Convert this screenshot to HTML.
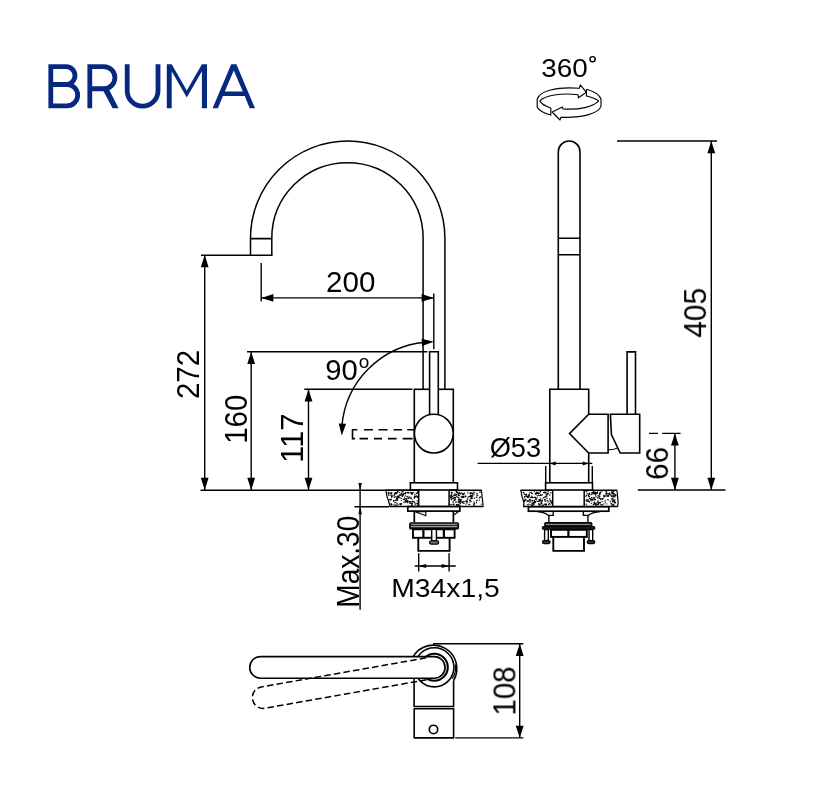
<!DOCTYPE html>
<html><head><meta charset="utf-8"><title>BRUMA</title>
<style>
html,body{margin:0;padding:0;background:#fff}
body{width:813px;height:792px;overflow:hidden;position:relative;font-family:"Liberation Sans",sans-serif}
svg{position:absolute;left:0;top:0;display:block}
text{font-family:"Liberation Sans",sans-serif;fill:#000}
.o{fill:none;stroke:#000;stroke-width:1.6}
.d{fill:none;stroke:#000;stroke-width:1.4}
.a{fill:#000;stroke:none}
</style></head><body>
<svg width="813" height="792" viewBox="0 0 813 792">
<g fill="none" stroke="#06297f" stroke-width="4.8" stroke-linejoin="miter" stroke-linecap="butt">
<path d="M50.8 64.2 V108.2 M48.4 66.55 H66 A8.975 8.975 0 0 1 66 84.5 H50.8 M65.6 84.5 H67 A10.675 10.675 0 0 1 67 105.85 H48.4"/>
<path d="M89.8 64.2 V108.2 M87.4 66.55 H103.8 A11.1 11.1 0 0 1 103.8 88.75 H89.8"/>
<path d="M127.2 64.2 V90.7 A15.4 15.4 0 0 0 158 90.7 V64.2"/>
</g>
<g fill="#06297f" stroke="none" fill-rule="evenodd">
<path d="M103 90.3 L108.9 89.3 L118.6 108.2 H112.6 Z"/>
<path d="M166.8 108.2 V64.2 H171.7 L186.8 90.6 L201.9 64.2 H207 V108.2 H201.9 V71.2 L186.8 97.6 L171.7 71.2 V108.2 Z"/>
<path d="M212.6 108.2 L231.2 64.2 H236.4 L255 108.2 H249.7 L244.7 96.1 H222.9 L217.9 108.2 Z M233.8 70.5 L242.8 91.5 H224.8 Z"/>
</g>
<g class="o">
<path d="M250.5 255 V238.3 A97.2 97.2 0 0 1 444.9 238.3 V389.2" style="stroke-width:1.5"/>
<path d="M271.8 255 V238.3 A75.65 75.65 0 0 1 423.1 238.3 V389.2" style="stroke-width:1.5"/>
<path d="M250.5 238.6 H271.8 M249.7 255.2 H272.6"/>
<rect x="414.3" y="389.3" width="39" height="93.5"/>
<rect x="410.4" y="482.8" width="47.1" height="7.2" fill="#fff"/>
<path d="M429.6 415 V351.7 H438.3 V415" fill="#fff"/>
<circle cx="433.8" cy="433.6" r="19.4" fill="#fff"/>
<path d="M414 429.7 H352.5" stroke-dasharray="6.7 5.3 8.4 6 9.1 5.5 9 6.7 4.8"/><path d="M352.5 428.9 V439.4"/><path d="M352.5 438.6 H414" stroke-dasharray="2.5 4.5 8.5 6 8 6 8.6 6.1 9.9 2"/>
</g>
<g class="d">
<path d="M201 255.3 H250"/>
<path d="M204.7 255 V490"/>
<path d="M200.6 490.2 H420" style="stroke-width:1.5"/>
<path d="M261.2 263 V301.5"/>
<path d="M261.2 297.9 H433.8"/>
<path d="M433.8 293.4 V349.3"/>
<path d="M247 351.8 H427.4"/>
<path d="M251.2 351.8 V490"/>
<path d="M304.3 389.2 H412.4"/>
<path d="M308.5 389.2 V490"/>
<path d="M425 342.2 A92 92 0 0 0 341.9 426"/>
<path d="M360.1 483 V609.7"/>
<path d="M354.4 506.7 H389"/>
</g>
<polygon class="a" points="204.7,255.0 208.6,267.2 200.8,267.2"/>
<polygon class="a" points="204.7,490.0 200.8,477.8 208.6,477.8"/>
<polygon class="a" points="261.2,297.9 273.4,294.0 273.4,301.8"/>
<polygon class="a" points="433.8,297.9 421.6,301.8 421.6,294.0"/>
<polygon class="a" points="251.2,351.8 255.1,364.0 247.3,364.0"/>
<polygon class="a" points="251.2,490.0 247.3,477.8 255.1,477.8"/>
<polygon class="a" points="308.5,389.2 312.4,401.4 304.6,401.4"/>
<polygon class="a" points="308.5,490.0 304.6,477.8 312.4,477.8"/>
<polygon class="a" points="433.8,341.8 422.0,346.0 421.6,338.8"/>
<polygon class="a" points="341.8,435.6 338.7,423.4 346.1,423.8"/>
<polygon class="a" points="360.1,490.2 358.4,482.9 361.9,482.9"/>
<polygon class="a" points="360.1,506.7 361.9,514.3 358.4,514.3"/>
<g fill="#000"><rect x="395.9" y="493.1" width="1" height="1"/><rect x="411.5" y="492.3" width="2" height="1"/><rect x="414.3" y="494.0" width="1" height="1.6"/><rect x="398.9" y="494.3" width="2" height="1.6"/><rect x="403.9" y="496.5" width="1" height="1"/><rect x="403.2" y="492.9" width="1.6" height="1"/><rect x="402.7" y="498.9" width="2" height="1"/><rect x="389.0" y="498.9" width="1" height="1.3"/><rect x="405.2" y="497.9" width="2" height="1.6"/><rect x="410.1" y="497.5" width="1.6" height="1.3"/><rect x="395.2" y="502.0" width="1" height="1"/><rect x="403.8" y="498.3" width="1.3" height="1.6"/><rect x="394.8" y="504.6" width="1" height="1.6"/><rect x="391.0" y="495.8" width="1.6" height="1.6"/><rect x="396.4" y="495.9" width="1.6" height="1.6"/><rect x="388.0" y="492.3" width="1.3" height="1.6"/><rect x="407.6" y="491.9" width="1.3" height="1.6"/><rect x="394.7" y="496.4" width="1.3" height="1"/><rect x="415.2" y="495.9" width="2" height="1"/><rect x="401.3" y="494.0" width="1.3" height="1"/><rect x="408.9" y="496.5" width="1.6" height="1"/><rect x="391.0" y="496.6" width="1.3" height="1"/><rect x="411.4" y="503.0" width="1.3" height="1.6"/><rect x="416.7" y="500.5" width="1.6" height="1"/><rect x="390.5" y="493.4" width="1" height="1"/><rect x="394.6" y="493.0" width="2" height="1.3"/><rect x="404.9" y="495.4" width="1" height="1"/><rect x="400.1" y="503.1" width="2" height="1.6"/><rect x="398.3" y="496.5" width="1.6" height="1.6"/><rect x="387.7" y="491.9" width="1" height="1.6"/><rect x="390.9" y="495.7" width="1" height="1"/><rect x="405.0" y="492.0" width="1" height="1.6"/><rect x="390.4" y="494.5" width="1.3" height="1.3"/><rect x="400.6" y="492.6" width="1.6" height="1.6"/><rect x="400.8" y="495.3" width="1" height="1"/><rect x="409.3" y="501.3" width="1.6" height="1"/><rect x="402.0" y="493.9" width="2" height="1.3"/><rect x="390.4" y="498.6" width="1" height="1.3"/><rect x="416.4" y="503.0" width="1.3" height="1.3"/><rect x="414.2" y="495.9" width="1" height="1.3"/><rect x="405.7" y="499.5" width="1" height="1"/><rect x="411.4" y="501.3" width="1" height="1"/><rect x="402.0" y="495.9" width="1" height="1"/><rect x="410.5" y="497.6" width="1" height="1.3"/><rect x="399.8" y="504.0" width="1.3" height="1.3"/><rect x="388.3" y="492.4" width="1.6" height="1"/><rect x="396.4" y="497.7" width="2" height="1"/><rect x="400.8" y="500.1" width="1" height="1"/><rect x="414.3" y="501.9" width="1" height="1.6"/><rect x="413.6" y="497.0" width="1.3" height="1"/><rect x="410.9" y="504.5" width="1.6" height="1.6"/><rect x="398.4" y="504.2" width="1" height="1"/><rect x="416.9" y="491.4" width="2" height="1.6"/><rect x="411.0" y="493.0" width="2" height="1.6"/><rect x="406.4" y="495.9" width="2" height="1"/><rect x="399.4" y="503.1" width="1" height="1"/><rect x="393.7" y="495.1" width="1" height="1.3"/><rect x="393.9" y="496.8" width="1" height="1"/><rect x="414.3" y="495.9" width="1.6" height="1.6"/><rect x="411.7" y="503.2" width="1" height="1"/><rect x="402.2" y="491.3" width="1.6" height="1"/><rect x="404.8" y="501.8" width="1" height="1"/><rect x="390.2" y="499.6" width="1" height="1"/><rect x="396.0" y="498.2" width="2" height="1.6"/><rect x="410.3" y="492.5" width="2" height="1"/><rect x="393.6" y="494.8" width="1" height="1.6"/><rect x="403.4" y="501.6" width="1" height="1.6"/><rect x="396.0" y="504.5" width="2" height="1"/><rect x="407.5" y="497.3" width="2" height="1.6"/><rect x="401.7" y="494.4" width="2" height="1.3"/><rect x="414.7" y="503.4" width="1" height="1.6"/><rect x="390.1" y="492.7" width="1.6" height="1.3"/><rect x="388.1" y="494.3" width="1" height="1"/><rect x="406.8" y="501.9" width="1" height="1.3"/><rect x="390.3" y="503.3" width="1.6" height="1"/><rect x="409.2" y="492.3" width="1.6" height="1"/><rect x="416.8" y="502.6" width="1" height="1.6"/><rect x="416.9" y="496.6" width="1.6" height="1"/><rect x="397.0" y="492.3" width="1.3" height="1"/><rect x="396.4" y="497.4" width="1" height="1.6"/><rect x="396.2" y="499.7" width="2" height="1"/><rect x="388.4" y="494.8" width="1" height="1.3"/><rect x="409.5" y="502.4" width="1.3" height="1.6"/><rect x="390.5" y="503.8" width="2" height="1.6"/><rect x="407.7" y="492.2" width="1" height="1"/><rect x="399.1" y="492.0" width="1" height="1"/><rect x="410.9" y="492.2" width="1" height="1"/><rect x="394.1" y="492.7" width="1" height="1.3"/><rect x="416.9" y="496.8" width="1.3" height="1"/><rect x="394.0" y="493.5" width="1.3" height="1.3"/><rect x="402.4" y="493.9" width="1.6" height="1"/><rect x="394.3" y="502.2" width="1.3" height="1"/><rect x="401.9" y="494.4" width="1.6" height="1"/><rect x="406.4" y="500.0" width="1.6" height="1.6"/><rect x="416.2" y="495.3" width="1" height="1"/><rect x="396.5" y="502.6" width="1" height="1.6"/><rect x="416.8" y="504.6" width="1" height="1"/><rect x="390.9" y="492.2" width="1.6" height="1.3"/><rect x="404.5" y="500.6" width="1" height="1.6"/><rect x="391.6" y="494.7" width="1" height="1.3"/><rect x="397.2" y="495.6" width="2" height="1.3"/><rect x="393.5" y="504.4" width="1.3" height="1"/><rect x="397.0" y="491.0" width="1.6" height="1"/><rect x="400.7" y="498.0" width="1" height="1"/><rect x="401.6" y="491.1" width="1.3" height="1"/><rect x="390.3" y="499.2" width="1.6" height="1"/><rect x="395.2" y="499.8" width="1" height="1"/><rect x="406.4" y="501.0" width="2" height="1.6"/><rect x="409.7" y="501.0" width="1.6" height="1"/><rect x="394.7" y="499.6" width="1" height="1"/><rect x="411.6" y="500.9" width="2" height="1.6"/><rect x="408.8" y="502.3" width="1" height="1"/><rect x="411.7" y="499.1" width="1" height="1"/><rect x="397.6" y="497.3" width="1" height="1"/><rect x="405.4" y="500.5" width="1.6" height="1.3"/><rect x="406.4" y="491.9" width="1.6" height="1.3"/><rect x="411.1" y="502.8" width="1" height="1"/><rect x="393.0" y="500.0" width="1.6" height="1.6"/><rect x="412.3" y="492.1" width="1.3" height="1"/><rect x="405.1" y="499.9" width="1" height="1"/><rect x="396.2" y="500.1" width="1.3" height="1"/><rect x="407.5" y="500.4" width="1.3" height="1.3"/><rect x="400.3" y="497.5" width="1" height="1"/><rect x="395.6" y="492.2" width="1.6" height="1"/><rect x="394.9" y="492.1" width="2" height="1.6"/><rect x="416.9" y="496.4" width="1" height="1"/><rect x="404.0" y="493.0" width="2" height="1.3"/><rect x="415.6" y="492.8" width="2" height="1.3"/><rect x="413.6" y="500.8" width="1" height="1.6"/><rect x="413.9" y="497.8" width="1" height="1"/><rect x="459.6" y="493.0" width="1.3" height="1.6"/><rect x="460.1" y="502.7" width="1" height="1.3"/><rect x="474.1" y="502.7" width="1" height="1"/><rect x="472.9" y="503.5" width="1.3" height="1.3"/><rect x="461.9" y="496.5" width="2" height="1"/><rect x="461.5" y="496.9" width="1.3" height="1"/><rect x="458.9" y="491.7" width="1.3" height="1"/><rect x="457.9" y="494.7" width="2" height="1.3"/><rect x="456.0" y="496.2" width="1.6" height="1"/><rect x="476.0" y="499.8" width="2" height="1"/><rect x="473.1" y="491.7" width="1.6" height="1.6"/><rect x="469.7" y="492.9" width="1.3" height="1.6"/><rect x="451.5" y="503.9" width="1" height="1"/><rect x="465.1" y="495.8" width="1.3" height="1.3"/><rect x="473.7" y="504.6" width="1.3" height="1.6"/><rect x="471.0" y="495.2" width="2" height="1.6"/><rect x="453.8" y="499.9" width="1" height="1"/><rect x="466.0" y="502.3" width="2" height="1"/><rect x="464.5" y="495.6" width="1.6" height="1.6"/><rect x="454.4" y="493.7" width="1" height="1"/><rect x="460.9" y="492.3" width="1" height="1.3"/><rect x="458.2" y="498.9" width="1" height="1.6"/><rect x="462.2" y="501.4" width="1" height="1.6"/><rect x="458.6" y="501.5" width="1.6" height="1.3"/><rect x="468.4" y="496.0" width="2" height="1"/><rect x="452.9" y="503.5" width="1.6" height="1.6"/><rect x="470.7" y="497.0" width="1.3" height="1"/><rect x="454.0" y="496.9" width="1.6" height="1.6"/><rect x="449.9" y="496.4" width="2" height="1.6"/><rect x="454.9" y="498.3" width="1" height="1.6"/><rect x="452.6" y="501.8" width="1" height="1"/><rect x="457.4" y="503.8" width="1.3" height="1"/><rect x="470.1" y="498.3" width="1.6" height="1"/><rect x="453.1" y="495.2" width="2" height="1"/><rect x="462.4" y="494.1" width="2" height="1"/><rect x="450.2" y="495.2" width="1.6" height="1.3"/><rect x="466.8" y="498.6" width="1" height="1.6"/><rect x="472.6" y="495.3" width="1" height="1"/><rect x="465.9" y="500.4" width="1.6" height="1"/><rect x="458.2" y="500.3" width="1.3" height="1"/><rect x="465.8" y="500.7" width="1.6" height="1.3"/><rect x="471.9" y="493.8" width="1.3" height="1"/><rect x="456.5" y="504.5" width="1.3" height="1"/><rect x="457.3" y="494.1" width="1.3" height="1"/><rect x="465.5" y="503.7" width="1" height="1"/><rect x="479.6" y="491.8" width="1" height="1"/><rect x="463.3" y="500.9" width="1" height="1.6"/><rect x="464.4" y="500.9" width="1.3" height="1"/><rect x="455.9" y="504.0" width="1.6" height="1"/><rect x="459.9" y="501.1" width="1.3" height="1.3"/><rect x="464.1" y="492.5" width="1" height="1.3"/><rect x="452.5" y="496.8" width="1" height="1"/><rect x="462.1" y="501.7" width="1.3" height="1.6"/><rect x="452.7" y="500.8" width="1" height="1.3"/><rect x="467.3" y="497.2" width="1.3" height="1.3"/><rect x="473.6" y="497.6" width="1.6" height="1"/><rect x="476.0" y="501.7" width="1" height="1.6"/><rect x="451.0" y="491.9" width="1" height="1.3"/><rect x="456.2" y="491.9" width="2" height="1.3"/><rect x="461.6" y="495.7" width="2" height="1"/><rect x="458.3" y="501.0" width="1.3" height="1.3"/><rect x="459.5" y="501.0" width="2" height="1"/><rect x="450.7" y="494.3" width="1.6" height="1.6"/><rect x="476.1" y="492.8" width="1.6" height="1"/><rect x="450.2" y="503.9" width="1.3" height="1"/><rect x="469.5" y="495.6" width="1.3" height="1.6"/><rect x="461.6" y="501.9" width="1" height="1"/><rect x="462.5" y="493.2" width="1.6" height="1"/><rect x="470.8" y="497.7" width="2" height="1.3"/><rect x="455.1" y="496.9" width="1" height="1"/><rect x="458.4" y="492.2" width="1" height="1.6"/><rect x="466.0" y="500.9" width="1.6" height="1"/><rect x="457.4" y="496.8" width="2" height="1"/><rect x="474.0" y="502.8" width="1" height="1.3"/><rect x="459.4" y="498.9" width="1.3" height="1.3"/><rect x="473.7" y="493.8" width="1" height="1"/><rect x="457.8" y="493.1" width="2" height="1"/><rect x="460.4" y="496.5" width="1" height="1"/><rect x="470.8" y="492.4" width="1.6" height="1"/><rect x="453.2" y="497.6" width="1" height="1.6"/><rect x="479.3" y="491.6" width="1.3" height="1"/><rect x="453.7" y="493.6" width="2" height="1"/><rect x="479.9" y="496.2" width="1" height="1.6"/><rect x="469.3" y="501.8" width="1" height="1"/><rect x="470.4" y="500.9" width="1.3" height="1"/><rect x="451.1" y="495.7" width="1" height="1"/><rect x="476.3" y="496.7" width="1.3" height="1"/><rect x="469.9" y="492.1" width="1" height="1.6"/><rect x="467.5" y="491.9" width="1" height="1.6"/><rect x="471.3" y="493.1" width="2" height="1"/><rect x="470.9" y="496.5" width="1.3" height="1.6"/><rect x="460.0" y="498.9" width="1.3" height="1.6"/><rect x="463.3" y="503.0" width="1.3" height="1"/><rect x="462.5" y="496.6" width="1" height="1.6"/><rect x="478.9" y="496.9" width="1" height="1.6"/><rect x="468.5" y="496.1" width="1" height="1"/><rect x="450.4" y="498.7" width="1.6" height="1"/><rect x="468.3" y="503.9" width="2" height="1"/><rect x="454.6" y="494.9" width="2" height="1"/><rect x="459.6" y="502.6" width="1" height="1.6"/><rect x="460.0" y="499.4" width="1.6" height="1"/><rect x="479.0" y="499.6" width="1" height="1"/><rect x="469.9" y="499.5" width="1" height="1.6"/><rect x="455.8" y="494.0" width="1.6" height="1"/><rect x="462.3" y="492.7" width="1" height="1"/><rect x="451.2" y="498.8" width="1" height="1.3"/><rect x="453.7" y="499.3" width="2" height="1.3"/><rect x="470.8" y="495.3" width="1" height="1.6"/><rect x="462.4" y="496.1" width="2" height="1.6"/><rect x="455.7" y="491.0" width="1.6" height="1.6"/><rect x="457.5" y="501.6" width="1.6" height="1"/><rect x="476.0" y="496.6" width="1" height="1"/><rect x="461.4" y="496.1" width="1.6" height="1"/><rect x="451.2" y="492.8" width="1.3" height="1"/><rect x="451.6" y="498.0" width="1.6" height="1"/><rect x="450.7" y="491.9" width="2" height="1"/><rect x="456.1" y="504.6" width="1.6" height="1.3"/><rect x="480.7" y="503.7" width="1" height="1"/><rect x="452.0" y="495.9" width="1.3" height="1"/><rect x="460.3" y="499.5" width="1.6" height="1"/><rect x="458.1" y="504.4" width="1.6" height="1"/><rect x="469.0" y="499.6" width="1" height="1.3"/><rect x="461.9" y="493.8" width="1.6" height="1"/><rect x="470.4" y="494.9" width="1.3" height="1.6"/><rect x="455.3" y="501.9" width="1" height="1"/><rect x="470.4" y="496.0" width="1.6" height="1"/><rect x="458.0" y="498.4" width="1.6" height="1.3"/><rect x="458.4" y="504.8" width="2" height="1"/><rect x="461.5" y="501.6" width="1.6" height="1"/><rect x="455.6" y="501.3" width="1" height="1.3"/><rect x="476.3" y="494.5" width="2" height="1.3"/><rect x="473.5" y="501.4" width="1" height="1"/><rect x="459.3" y="499.7" width="1.6" height="1.3"/></g><g class="o" style="stroke-width:1.5"><path d="M385.5 490.2 H418.7 M449.1 490.2 H481.6"/><path d="M389.5 506.5 H483.40000000000003"/><path d="M385.8 490.2 c0.9 3.5 0.7 5.8 2 8.6 s1.6 5.2 2.0 7.700000000000012" style="stroke-width:1.2"/><path d="M481.3 490.2 c0.9 3.5 0.5 5.8 1 8.6 s0.6 5.2 0.8 7.700000000000012" style="stroke-width:1.2"/><path d="M418.7 490.2 V506.5 M449.1 490.2 V506.5"/></g>
<g fill="#000"><rect x="547.9" y="492.8" width="1" height="1"/><rect x="524.0" y="496.0" width="1" height="1.6"/><rect x="538.5" y="499.2" width="1" height="1.3"/><rect x="539.7" y="497.6" width="1" height="1"/><rect x="549.2" y="494.4" width="1" height="1.6"/><rect x="523.7" y="499.9" width="1.3" height="1.6"/><rect x="545.4" y="504.4" width="1" height="1.3"/><rect x="538.8" y="499.0" width="2" height="1.6"/><rect x="528.3" y="503.6" width="1" height="1"/><rect x="536.9" y="496.6" width="1" height="1"/><rect x="525.1" y="493.8" width="2" height="1.6"/><rect x="545.4" y="493.4" width="1.3" height="1"/><rect x="529.9" y="491.7" width="1.6" height="1"/><rect x="532.2" y="497.1" width="1.6" height="1"/><rect x="543.3" y="497.3" width="1" height="1"/><rect x="528.7" y="500.0" width="1" height="1.3"/><rect x="547.8" y="503.9" width="1.3" height="1"/><rect x="528.9" y="498.7" width="1.6" height="1.3"/><rect x="529.8" y="503.9" width="1" height="1"/><rect x="547.5" y="491.2" width="1.3" height="1"/><rect x="546.3" y="493.8" width="1" height="1.3"/><rect x="526.6" y="496.4" width="2" height="1"/><rect x="532.3" y="502.8" width="2" height="1.6"/><rect x="535.1" y="498.4" width="1" height="1"/><rect x="534.0" y="501.1" width="2" height="1.3"/><rect x="544.7" y="496.4" width="2" height="1"/><rect x="537.9" y="493.4" width="1" height="1"/><rect x="524.2" y="499.6" width="1" height="1.3"/><rect x="550.4" y="500.7" width="1" height="1"/><rect x="525.0" y="499.9" width="1" height="1"/><rect x="543.1" y="491.9" width="2" height="1.3"/><rect x="526.8" y="504.3" width="2" height="1"/><rect x="547.5" y="501.5" width="1.6" height="1"/><rect x="528.3" y="493.8" width="1" height="1"/><rect x="549.6" y="503.7" width="1" height="1.3"/><rect x="535.3" y="492.8" width="1" height="1.3"/><rect x="530.5" y="496.9" width="1" height="1.3"/><rect x="528.6" y="494.9" width="1.3" height="1.3"/><rect x="544.1" y="499.4" width="1.6" height="1.3"/><rect x="539.5" y="491.4" width="1.6" height="1"/><rect x="534.0" y="501.7" width="1.3" height="1.6"/><rect x="542.2" y="498.5" width="1" height="1"/><rect x="538.2" y="495.0" width="1.6" height="1"/><rect x="536.7" y="495.0" width="1" height="1"/><rect x="531.3" y="492.3" width="1" height="1.6"/><rect x="538.8" y="504.3" width="2" height="1.3"/><rect x="538.3" y="493.2" width="1" height="1"/><rect x="535.9" y="492.5" width="1" height="1.6"/><rect x="544.7" y="500.7" width="1" height="1.3"/><rect x="531.6" y="496.6" width="1.6" height="1"/><rect x="533.6" y="500.0" width="1.3" height="1"/><rect x="530.0" y="497.0" width="2" height="1"/><rect x="532.3" y="503.3" width="1" height="1.6"/><rect x="524.6" y="499.3" width="2" height="1"/><rect x="531.4" y="495.5" width="1" height="1.6"/><rect x="540.9" y="501.3" width="1" height="1.6"/><rect x="534.1" y="501.8" width="2" height="1"/><rect x="524.6" y="497.4" width="1" height="1"/><rect x="528.9" y="501.5" width="2" height="1"/><rect x="542.7" y="504.5" width="1.3" height="1.3"/><rect x="525.7" y="495.6" width="1" height="1.3"/><rect x="550.3" y="501.1" width="1" height="1"/><rect x="550.0" y="492.4" width="1.6" height="1"/><rect x="550.6" y="502.0" width="1.3" height="1.6"/><rect x="529.1" y="492.5" width="1" height="1.3"/><rect x="527.1" y="496.4" width="1" height="1"/><rect x="532.9" y="502.0" width="1" height="1.3"/><rect x="534.8" y="493.0" width="2" height="1.6"/><rect x="546.4" y="500.3" width="2" height="1"/><rect x="541.4" y="499.9" width="1.6" height="1.6"/><rect x="530.3" y="499.7" width="1" height="1.6"/><rect x="528.1" y="496.6" width="1" height="1.3"/><rect x="546.5" y="497.7" width="1" height="1.6"/><rect x="536.5" y="500.2" width="1" height="1.3"/><rect x="544.4" y="496.4" width="1.6" height="1"/><rect x="536.5" y="492.4" width="2" height="1.6"/><rect x="537.2" y="501.0" width="2" height="1"/><rect x="540.2" y="502.5" width="2" height="1.3"/><rect x="533.2" y="504.2" width="1" height="1"/><rect x="532.7" y="501.6" width="1" height="1.3"/><rect x="540.1" y="494.5" width="1.6" height="1.6"/><rect x="522.7" y="492.0" width="1.6" height="1.3"/><rect x="538.4" y="492.5" width="1.3" height="1.6"/><rect x="549.3" y="498.3" width="1" height="1.6"/><rect x="534.8" y="493.3" width="1" height="1"/><rect x="535.0" y="498.8" width="1" height="1"/><rect x="531.5" y="499.9" width="1.6" height="1.6"/><rect x="551.0" y="501.6" width="1" height="1.6"/><rect x="531.5" y="502.8" width="1.3" height="1.6"/><rect x="541.6" y="504.7" width="1" height="1.6"/><rect x="528.2" y="495.2" width="1.6" height="1.6"/><rect x="533.8" y="499.9" width="1.3" height="1"/><rect x="548.9" y="502.9" width="1" height="1"/><rect x="545.9" y="503.6" width="1" height="1.3"/><rect x="540.0" y="491.2" width="1" height="1"/><rect x="549.6" y="500.1" width="1.3" height="1"/><rect x="538.3" y="502.9" width="1" height="1.6"/><rect x="531.3" y="493.1" width="1.6" height="1"/><rect x="539.3" y="500.6" width="1" height="1.3"/><rect x="526.8" y="500.6" width="2" height="1"/><rect x="543.3" y="497.1" width="1" height="1"/><rect x="528.8" y="494.3" width="1" height="1.6"/><rect x="535.7" y="491.8" width="1.6" height="1"/><rect x="542.0" y="494.4" width="1" height="1"/><rect x="525.7" y="495.5" width="2" height="1.6"/><rect x="541.0" y="502.7" width="1.3" height="1.6"/><rect x="533.5" y="504.4" width="1" height="1"/><rect x="540.1" y="499.8" width="1" height="1"/><rect x="539.3" y="500.5" width="1.3" height="1"/><rect x="536.3" y="497.7" width="1" height="1"/><rect x="527.3" y="496.8" width="1" height="1.3"/><rect x="523.7" y="500.2" width="1.3" height="1.6"/><rect x="544.4" y="498.7" width="1" height="1.3"/><rect x="534.0" y="496.9" width="2" height="1"/><rect x="545.8" y="495.1" width="1.6" height="1.6"/><rect x="530.9" y="504.7" width="2" height="1.3"/><rect x="550.3" y="500.1" width="1" height="1.3"/><rect x="526.6" y="500.9" width="1" height="1"/><rect x="544.6" y="491.6" width="2" height="1.6"/><rect x="537.3" y="491.7" width="1.3" height="1"/><rect x="544.7" y="503.6" width="2" height="1.6"/><rect x="539.5" y="499.7" width="2" height="1"/><rect x="527.2" y="500.3" width="1.6" height="1"/><rect x="523.9" y="493.5" width="1" height="1.6"/><rect x="544.3" y="503.7" width="1" height="1.3"/><rect x="547.2" y="492.9" width="1.3" height="1.3"/><rect x="546.9" y="493.6" width="1" height="1.3"/><rect x="535.9" y="498.3" width="1" height="1.6"/><rect x="538.2" y="503.8" width="1.6" height="1"/><rect x="535.2" y="496.7" width="1" height="1"/><rect x="540.3" y="494.0" width="1" height="1"/><rect x="533.7" y="491.1" width="1" height="1"/><rect x="591.9" y="492.7" width="1.6" height="1"/><rect x="593.7" y="498.9" width="1.6" height="1"/><rect x="614.2" y="496.1" width="1" height="1"/><rect x="594.3" y="498.7" width="1.6" height="1.6"/><rect x="606.2" y="503.4" width="1" height="1"/><rect x="585.4" y="491.2" width="2" height="1"/><rect x="597.3" y="495.3" width="2" height="1"/><rect x="595.0" y="504.2" width="1.6" height="1.6"/><rect x="606.4" y="493.0" width="1" height="1.3"/><rect x="597.2" y="501.9" width="1.3" height="1.3"/><rect x="594.2" y="491.8" width="2" height="1.3"/><rect x="612.5" y="501.1" width="1" height="1"/><rect x="604.0" y="495.3" width="1.6" height="1"/><rect x="596.9" y="500.5" width="2" height="1"/><rect x="610.5" y="494.9" width="1" height="1.3"/><rect x="593.3" y="496.9" width="2" height="1"/><rect x="594.1" y="493.0" width="2" height="1"/><rect x="593.7" y="502.8" width="2" height="1.6"/><rect x="596.0" y="492.2" width="2" height="1.6"/><rect x="610.2" y="493.8" width="1" height="1.3"/><rect x="604.2" y="500.4" width="1.6" height="1"/><rect x="614.3" y="499.2" width="1" height="1.6"/><rect x="599.5" y="492.2" width="1.3" height="1"/><rect x="592.4" y="499.1" width="1.3" height="1.3"/><rect x="600.1" y="499.2" width="1" height="1"/><rect x="591.1" y="493.5" width="1.3" height="1.3"/><rect x="603.3" y="496.0" width="2" height="1"/><rect x="592.8" y="503.8" width="1.6" height="1.3"/><rect x="612.4" y="496.2" width="1.6" height="1"/><rect x="589.9" y="499.3" width="1.3" height="1.3"/><rect x="601.4" y="491.3" width="1" height="1"/><rect x="593.3" y="501.8" width="1.6" height="1"/><rect x="593.0" y="491.5" width="1" height="1"/><rect x="597.0" y="491.4" width="1" height="1.3"/><rect x="612.5" y="497.4" width="1" height="1.6"/><rect x="614.1" y="500.8" width="1" height="1.3"/><rect x="595.1" y="494.2" width="1" height="1.6"/><rect x="590.8" y="502.8" width="1.3" height="1"/><rect x="611.5" y="491.7" width="2" height="1.6"/><rect x="586.8" y="493.0" width="1" height="1"/><rect x="606.4" y="495.2" width="2" height="1.6"/><rect x="608.9" y="492.5" width="1.3" height="1.3"/><rect x="593.1" y="492.7" width="1.6" height="1.6"/><rect x="590.3" y="494.3" width="1" height="1"/><rect x="599.8" y="503.7" width="1" height="1"/><rect x="614.3" y="494.1" width="2" height="1.3"/><rect x="613.1" y="492.9" width="1.6" height="1"/><rect x="614.3" y="496.4" width="1" height="1"/><rect x="599.3" y="495.7" width="1" height="1.6"/><rect x="588.7" y="496.1" width="1.3" height="1"/><rect x="608.3" y="493.5" width="1.6" height="1"/><rect x="598.9" y="493.1" width="1.6" height="1.6"/><rect x="592.8" y="491.4" width="2" height="1.3"/><rect x="595.6" y="493.3" width="1.6" height="1"/><rect x="595.1" y="503.6" width="1" height="1"/><rect x="611.4" y="492.7" width="1" height="1.3"/><rect x="598.7" y="494.6" width="1" height="1"/><rect x="588.1" y="495.0" width="1" height="1"/><rect x="611.3" y="504.6" width="1" height="1"/><rect x="599.0" y="498.1" width="2" height="1"/><rect x="599.0" y="502.0" width="2" height="1.3"/><rect x="590.9" y="497.0" width="1.6" height="1"/><rect x="593.7" y="493.5" width="1" height="1"/><rect x="607.5" y="493.7" width="1" height="1"/><rect x="613.1" y="501.2" width="1.3" height="1"/><rect x="591.5" y="499.5" width="1" height="1.3"/><rect x="591.4" y="491.9" width="2" height="1.6"/><rect x="611.6" y="503.7" width="2" height="1.3"/><rect x="595.6" y="502.7" width="1.6" height="1"/><rect x="585.5" y="503.7" width="1.6" height="1"/><rect x="612.6" y="494.7" width="1" height="1.3"/><rect x="586.2" y="500.8" width="2" height="1"/><rect x="596.3" y="504.0" width="2" height="1"/><rect x="588.8" y="500.9" width="1.3" height="1.6"/><rect x="603.2" y="503.5" width="1.3" height="1"/><rect x="601.8" y="498.5" width="1" height="1"/><rect x="588.2" y="494.5" width="1" height="1"/><rect x="588.0" y="500.7" width="1" height="1.3"/><rect x="585.6" y="499.3" width="2" height="1.6"/><rect x="601.5" y="500.8" width="1" height="1.3"/><rect x="612.5" y="501.0" width="1" height="1.3"/><rect x="588.9" y="497.9" width="2" height="1.3"/><rect x="588.5" y="492.7" width="1" height="1"/><rect x="612.2" y="493.0" width="2" height="1.6"/><rect x="608.6" y="493.3" width="1" height="1.6"/><rect x="606.9" y="499.3" width="2" height="1"/><rect x="597.5" y="504.1" width="1.3" height="1.3"/><rect x="597.7" y="502.7" width="1.6" height="1.3"/><rect x="610.8" y="502.8" width="1" height="1.3"/><rect x="601.3" y="504.3" width="1.3" height="1"/><rect x="612.5" y="500.2" width="1" height="1.3"/><rect x="588.4" y="493.6" width="1.3" height="1.6"/><rect x="591.3" y="500.3" width="1" height="1"/><rect x="598.3" y="496.5" width="1.6" height="1"/><rect x="610.6" y="503.3" width="1" height="1"/><rect x="612.4" y="499.6" width="2" height="1.3"/><rect x="604.9" y="502.2" width="1" height="1"/><rect x="592.9" y="498.2" width="1.6" height="1"/><rect x="615.0" y="495.0" width="1.3" height="1.3"/><rect x="605.5" y="492.7" width="2" height="1.3"/><rect x="587.7" y="499.2" width="1" height="1.6"/><rect x="588.9" y="492.8" width="1.3" height="1.6"/><rect x="603.2" y="494.8" width="1" height="1.3"/><rect x="611.5" y="499.5" width="2" height="1"/><rect x="605.6" y="493.8" width="1.3" height="1.6"/><rect x="613.2" y="495.2" width="1.6" height="1.6"/><rect x="610.9" y="491.4" width="1.3" height="1"/><rect x="591.0" y="498.6" width="2" height="1.6"/><rect x="585.4" y="495.9" width="1" height="1.3"/><rect x="602.6" y="497.8" width="1.3" height="1"/><rect x="594.3" y="501.7" width="1" height="1"/><rect x="604.1" y="495.8" width="1" height="1.6"/><rect x="611.4" y="495.9" width="1" height="1"/><rect x="595.6" y="495.9" width="1" height="1.3"/><rect x="610.9" y="498.2" width="1.6" height="1.3"/><rect x="609.8" y="500.8" width="1" height="1.6"/><rect x="612.5" y="491.1" width="2" height="1"/><rect x="600.7" y="504.4" width="2" height="1"/><rect x="598.2" y="501.9" width="2" height="1"/><rect x="597.0" y="497.3" width="1.6" height="1.3"/><rect x="607.8" y="495.1" width="1.6" height="1.6"/><rect x="605.5" y="491.1" width="1.6" height="1.6"/><rect x="599.0" y="493.6" width="1.3" height="1"/><rect x="598.8" y="496.2" width="1" height="1"/><rect x="611.0" y="495.6" width="2" height="1"/><rect x="585.8" y="494.6" width="1.6" height="1.3"/><rect x="614.1" y="501.8" width="2" height="1.6"/><rect x="601.4" y="498.2" width="1.6" height="1.6"/><rect x="599.7" y="491.6" width="1.3" height="1.6"/><rect x="588.1" y="496.2" width="1.6" height="1"/><rect x="612.8" y="504.4" width="1.6" height="1.6"/></g><g class="o" style="stroke-width:1.5"><path d="M520.5 490.2 H552.7 M584.2 490.2 H617.0999999999999"/><path d="M523.1 506.5 H617.8999999999999"/><path d="M520.8 490.2 c0.9 3.5 0.7 5.8 2 8.6 s1.6 5.2 0.6000000000000001 7.700000000000012" style="stroke-width:1.2"/><path d="M616.8 490.2 c0.9 3.5 0.5 5.8 1 8.6 s0.6 5.2 -0.19999999999999996 7.700000000000012" style="stroke-width:1.2"/><path d="M552.7 490.2 V506.5 M584.2 490.2 V506.5"/></g>
<g class="o" style="stroke-width:1.7">
<rect x="407.8" y="506.6" width="52" height="4.5" fill="#fff"/>
<path d="M414.3 511.1 V522.6 M453.4 511.1 V522.6"/>
<path d="M415 511.7 H425.8 V515.7 Z" style="stroke-width:1.2"/>
<path d="M454.2 514.8 L458.6 511.6" style="stroke-width:1.2"/>
<rect x="409.8" y="522.9" width="48.6" height="6" rx="1.2" fill="#222" style="stroke-width:1.3"/>
<path d="M411 524.3 H457.2 M411 526.6 H457.2" style="stroke:#bbb;stroke-width:0.9"/>
<rect x="413" y="529.3" width="41.6" height="8.5" fill="#fff" style="stroke-width:1.9"/>
<path d="M423.4 529.3 V537.8 M443.9 529.3 V537.8" style="stroke-width:2.2"/>
<rect x="431.7" y="529.3" width="4.7" height="11.6" fill="#fff" style="stroke-width:1.4"/>
<rect x="429.6" y="540.8" width="9" height="3.4" rx="1.7" fill="#777" style="stroke-width:1.3"/>
<path d="M418.3 537.8 V550.9 H449.6 V537.8" style="stroke-width:1.9"/>
</g>
<g class="d">
<path d="M418.7 553.2 V571.4 M449.1 553.2 V571.4 M414.7 566 H455.8"/>
</g>
<polygon class="a" points="418.7,566.0 426.2,563.9 426.2,568.1"/>
<polygon class="a" points="449.1,566.0 441.6,568.1 441.6,563.9"/>
<g class="o">
<path d="M558.3 389.3 V151.8 A10.85 10.85 0 0 1 580 151.8 V389.3"/>
<path d="M558.3 238.3 H580 M558.3 254.8 H580"/>
<path d="M588.7 414.2 V389.3 H549.8 V482.8 H588.7 V453"/>
<rect x="545.6" y="482.8" width="46.9" height="7.2" fill="#fff"/>
<path d="M588.7 414.2 H608.1 V453 H588.7 L569.5 433.6 Z" fill="#fff"/>
<path d="M610.4 414.2 H639.7 V453 H620.2 L611.4 434.6 Z" fill="#fff"/>
<path d="M608.1 449.8 Q613 450 617.6 448" stroke-width="1"/>
<path d="M627.1 414.2 V351.9 H635.5 V414.2"/>
</g>
<g class="d">
<path d="M617 141 H717"/>
<path d="M711.3 141 V490"/>
<path d="M637.8 490 H725.5"/>
<path d="M649 433.4 H658 M662.2 433.4 H680.6"/>
<path d="M674.9 433.4 V490"/>
<path d="M477.6 463.4 H592.3"/>
<path d="M545.7 466 V482.5 M592.3 466 V482.5"/>
</g>
<polygon class="a" points="711.3,141.0 715.2,153.2 707.4,153.2"/>
<polygon class="a" points="711.3,490.0 707.4,477.8 715.2,477.8"/>
<polygon class="a" points="674.9,433.4 678.8,445.6 671.0,445.6"/>
<polygon class="a" points="674.9,490.0 671.0,477.8 678.8,477.8"/>
<polygon class="a" points="549.7,463.4 555.7,461.4 555.7,465.4"/>
<polygon class="a" points="588.7,463.4 582.7,465.4 582.7,461.4"/>
<g class="o" style="stroke-width:1.7">
<rect x="528.4" y="506.8" width="80.4" height="4.4" fill="#fff"/>
<path d="M537.2 511.6 Q545 512.3 548.5 515.4 H553.2 V511.4 M600 511.6 Q592 512.3 588.3 515.4 H583.3 V511.4" style="stroke-width:1.3"/>
<path d="M548.9 515.4 V522.4 M587.9 515.4 V522.4" style="stroke-width:1.4"/>
<rect x="544.8" y="522.7" width="47" height="3.6" rx="1" fill="#222" style="stroke-width:1.3"/>
<path d="M546 524.4 H590.6" style="stroke:#aaa;stroke-width:0.8"/>
<rect x="542.4" y="526.6" width="52.4" height="2.6" rx="1" fill="#222" style="stroke-width:1.1"/>
<rect x="544.6" y="529.6" width="3.7" height="11" fill="#fff" style="stroke-width:1.4"/>
<rect x="589" y="529.6" width="3.7" height="11" fill="#fff" style="stroke-width:1.4"/>
<rect x="542.5" y="540.6" width="7.6" height="3" rx="1.5" fill="#333" style="stroke-width:1.2"/>
<rect x="587.2" y="540.6" width="7.6" height="3" rx="1.5" fill="#333" style="stroke-width:1.2"/>
<rect x="551" y="529.8" width="35.8" height="7.1" fill="#fff" style="stroke-width:1.9"/>
<path d="M568.4 529.8 V536.9" style="stroke-width:2.2"/>
<path d="M553.3 536.9 V550.9 H584 V536.9" style="stroke-width:1.9"/>
</g>
<g class="o" style="stroke-width:1.15" stroke-linejoin="round">
<path d="M537.2 99 C540 91 556 86.6 579.3 88.3 L580.3 84.9 L586.4 92.3 L578.4 97.8 L578 94.7 C561 92.6 545 95.6 539.7 100.9"/>
<path d="M537.2 99 V107 C539 110.5 544 113.3 550.8 115 V108"/>
<path d="M539.7 100.9 C541.5 103.8 545.5 106.3 550.8 108"/>
<path d="M586.4 89.2 C594.5 91.4 599.5 94.8 601 99 V106.4 C598.5 113 584 118.2 560.8 117.3 L560 120 L552.2 112 L562.4 107 L563 108.9 C579 110.2 593.5 106.8 598.7 100.9"/>
<path d="M586.4 89.2 V96 C591.5 97.3 596 99 598.7 100.9"/>
</g>
<g class="o">
<path d="M413.1 656.7 A23.4 23.4 0 1 1 453.6 680.6"/>
<path d="M455.4 664.3 A21.3 21.3 0 0 1 452.3 678.8" style="stroke-width:1.2"/>
<circle cx="434.3" cy="667.3" r="19.6"/>
<circle cx="434.3" cy="667.3" r="13.5" style="stroke-width:2.1"/>
<path d="M414.1 678.2 V706.5 H453.6 V680.4"/>
<path d="M434.3 656.6 H260.5 A10.8 10.8 0 0 0 260.5 678.2 H434.3 A10.8 10.8 0 0 0 434.3 656.6 Z" fill="#fff"/>
<g transform="rotate(-10 434.3 667.4)"><path d="M428 656.6 H260.5 A10.8 10.8 0 0 0 260.5 678.2 H426" stroke-dasharray="6.5 3.2" style="stroke-width:1.5"/></g>
<path d="M414.2 708.7 H453.6 V737.9 H414.2 Z" stroke-linejoin="round"/>
<circle cx="433.5" cy="729.4" r="4.2"/>
</g>
<g class="d">
<path d="M433 643.8 H523.3 M455.2 737.9 H523.3 M519.7 643.8 V737.9"/>
</g>
<polygon class="a" points="519.7,643.8 523.6,656.0 515.8,656.0"/>
<polygon class="a" points="519.7,737.9 515.8,725.7 523.6,725.7"/>
<g style="opacity:0.999">
<text x="350.8" y="292" font-size="30" text-anchor="middle" textLength="49.4" lengthAdjust="spacingAndGlyphs">200</text>
<text x="341.5" y="379.7" font-size="30" text-anchor="middle" textLength="32.6" lengthAdjust="spacingAndGlyphs">90</text>
<text x="364" y="368.4" font-size="19" text-anchor="middle">o</text>
<text x="199.4" y="374.5" font-size="31" text-anchor="middle" transform="rotate(-90 199.4 374.5)" textLength="49.2" lengthAdjust="spacingAndGlyphs">272</text>
<text x="246.6" y="419.2" font-size="31" text-anchor="middle" transform="rotate(-90 246.6 419.2)" textLength="49.2" lengthAdjust="spacingAndGlyphs">160</text>
<text x="302.9" y="438.2" font-size="31" text-anchor="middle" transform="rotate(-90 302.9 438.2)" textLength="49.8" lengthAdjust="spacingAndGlyphs">117</text>
<text x="358.6" y="561.7" font-size="30.5" text-anchor="middle" transform="rotate(-90 358.6 561.7)" textLength="92" lengthAdjust="spacingAndGlyphs">Max.30</text>
<text x="445.5" y="596.7" font-size="25.8" text-anchor="middle" textLength="108.5" lengthAdjust="spacingAndGlyphs">M34x1,5</text>
<text x="564.5" y="76.7" font-size="25.6" text-anchor="middle" textLength="46.5" lengthAdjust="spacingAndGlyphs">360</text>
<circle cx="592.6" cy="59.2" r="2.6" class="d"/>
<text x="515.4" y="456.5" font-size="27.2" text-anchor="middle">Ø53</text>
<text x="668.5" y="463.4" font-size="31" text-anchor="middle" transform="rotate(-90 668.5 463.4)" textLength="33" lengthAdjust="spacingAndGlyphs">66</text>
<text x="705.9" y="312.8" font-size="31" text-anchor="middle" transform="rotate(-90 705.9 312.8)" textLength="50" lengthAdjust="spacingAndGlyphs">405</text>
<text x="515.4" y="691" font-size="31" text-anchor="middle" transform="rotate(-90 515.4 691)" textLength="49.4" lengthAdjust="spacingAndGlyphs">108</text>
</g>
</svg>
</body></html>
